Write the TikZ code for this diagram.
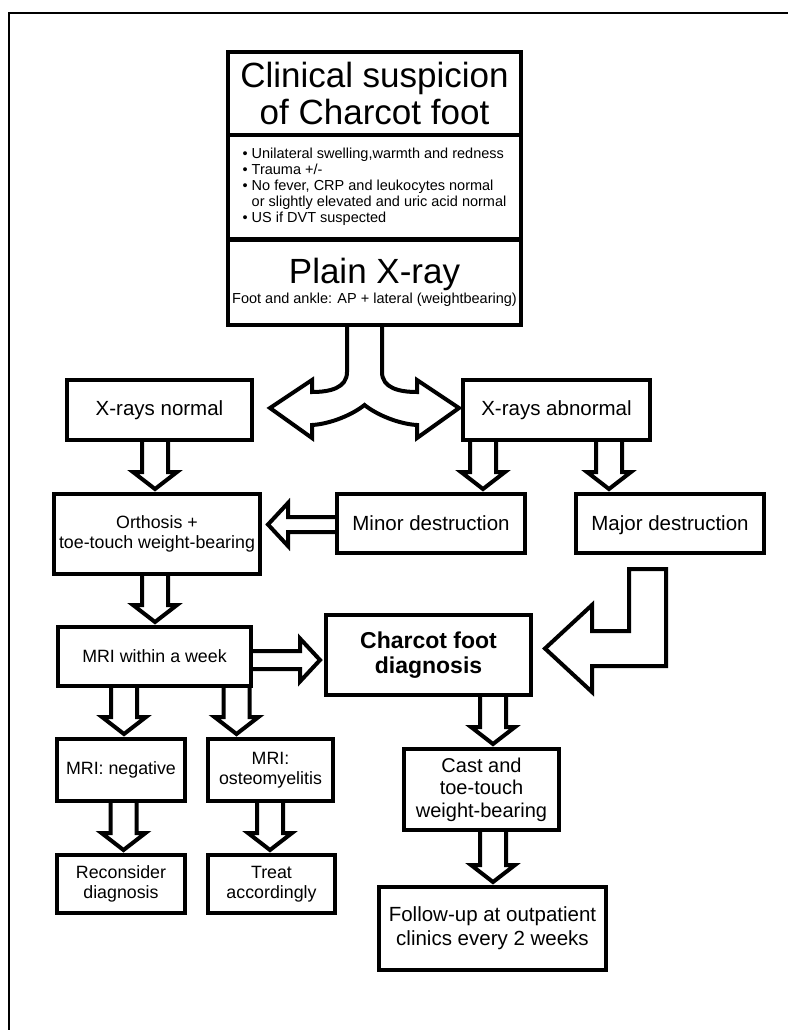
\documentclass[tikz,border=0pt]{standalone}
\usepackage{fontspec}
\setmainfont{Liberation Sans}
\usetikzlibrary{calc}
\newcommand\fsz[2]{\fontsize{#1}{#2}\selectfont}
% downward block arrow: x, from node, to node
\newcommand\downarr[3]{%
  \coordinate (ax) at (#1,0);
  \draw[arr] ($(ax |- #2.south)+(-13,0)$) -- ($(ax |- #3.north)+(-13,-22)$)
    -- ($(ax |- #3.north)+(-22,-22)$) -- ($(ax |- #3.north)+(0,-5)$)
    -- ($(ax |- #3.north)+(22,-22)$) -- ($(ax |- #3.north)+(13,-22)$)
    -- ($(ax |- #2.south)+(13,0)$);}
\begin{document}
\begin{tikzpicture}[x=1pt,y=-1pt,
  box/.style={draw, line width=4pt, fill=white, inner sep=0pt, outer sep=0pt,
    align=center, line join=miter},
  arr/.style={draw, line width=4pt, line join=miter},
  medium/.style={font=\fsz{20.5}{24}},
  small/.style={font=\fsz{17.8}{20}}]
\useasboundingbox (0,0) rectangle (788,1030);
% outer frame (left and top edges)
\draw[line width=2.5pt] (9,1030) -- (9,13) -- (788,13);

% top stacked box
\node[box, minimum width=293, minimum height=83, font=\fsz{35}{37}] (title) at (374.5,93.5)
  {Clinical suspicion\\of Charcot foot};
\node[box, minimum width=293, minimum height=104, align=left, font=\fsz{14.5}{16}] (bullets) at (374.5,187)
  {• Unilateral swelling,warmth and redness\\• Trauma +/-\\• No fever, CRP and leukocytes normal\\\phantom{•}\ or slightly elevated and uric acid normal\\• US if DVT suspected};
\node[box, minimum width=293, minimum height=85, font=\fsz{14.5}{20}] (xray) at (374.5,282)
  {{\fsz{35}{37}Plain X-ray}\\Foot and ankle: AP + lateral (weightbearing)};

% second row
\node[box, medium, minimum width=185, minimum height=60] (normal) at (159.5,410) {X-rays normal};
\node[box, medium, minimum width=187, minimum height=60] (abnormal) at (556.5,410) {X-rays abnormal};

\node[box, medium, minimum width=188, minimum height=59] (minor) at (431,523.5) {Minor destruction};
\node[box, medium, minimum width=188, minimum height=59, text depth=0pt] (major) at (670,523.5) {Major destruction};
\node[box, small, minimum width=206, minimum height=80] (ortho) at (157,534)
  {Orthosis +\\toe-touch weight-bearing};

\node[box, small, minimum width=193, minimum height=59] (mri) at (154.5,656.5) {MRI within a week};
\node[box, minimum width=205, minimum height=80, font=\bfseries\fsz{23}{25}] (charcot) at (428.5,655)
  {Charcot foot\\diagnosis};

\node[box, small, minimum width=128, minimum height=62] (neg) at (121,770) {MRI: negative};
\node[box, small, minimum width=125, minimum height=62] (osteo) at (270.5,770) {MRI:\\osteomyelitis};
\node[box, small, minimum width=128, minimum height=58] (recon) at (121,884) {Reconsider\\diagnosis};
\node[box, small, minimum width=127, minimum height=58] (treat) at (271.5,884) {Treat\\accordingly};

\node[box, minimum width=155, minimum height=81, font=\fsz{20}{22.5}] (cast) at (481.5,789.5)
  {Cast and\\toe-touch\\weight-bearing};
\node[box, minimum width=227, minimum height=83, font=\fsz{20.5}{24}] (follow) at (492.5,928.5)
  {Follow-up at outpatient\\clinics every 2 weeks};

% split arrow from Plain X-ray
\draw[arr] (347,0 |- xray.south) -- (347,372)
  .. controls (347,388) and (330,392) .. (312,392)
  -- (312,380) -- (270,408) -- (312,438) -- (312,425)
  .. controls (330,424) and (352,415) .. (364.5,405)
  .. controls (377,415) and (399,424) .. (417,425)
  -- (417,438) -- (459,408) -- (417,380) -- (417,392)
  .. controls (399,392) and (382,388) .. (382,372)
  -- (382,0 |- xray.south);

% vertical block arrows
\downarr{155}{normal}{ortho}
\downarr{483}{abnormal}{minor}
\downarr{609}{abnormal}{major}
\downarr{155}{ortho}{mri}
\downarr{124}{mri}{neg}
\downarr{236.5}{mri}{osteo}
\downarr{123.5}{neg}{recon}
\downarr{270}{osteo}{treat}
\downarr{493}{charcot}{cast}
\downarr{493}{cast}{follow}

% minor destruction -> orthosis
\coordinate (m1) at (0,524.5);
\draw[arr] ($(minor.west |- m1)+(0,-7.5)$) -- ($(ortho.east |- m1)+(28,-7.5)$)
  -- ($(ortho.east |- m1)+(28,-21.5)$) -- ($(ortho.east |- m1)+(8,0)$)
  -- ($(ortho.east |- m1)+(28,21.5)$) -- ($(ortho.east |- m1)+(28,7.5)$)
  -- ($(minor.west |- m1)+(0,7.5)$);

% MRI -> Charcot
\coordinate (m2) at (0,660);
\draw[arr] ($(mri.east |- m2)+(0,-9)$) -- ($(charcot.west |- m2)+(-26,-9)$)
  -- ($(charcot.west |- m2)+(-26,-21.5)$) -- ($(charcot.west |- m2)+(-6,0)$)
  -- ($(charcot.west |- m2)+(-26,21.5)$) -- ($(charcot.west |- m2)+(-26,9)$)
  -- ($(mri.east |- m2)+(0,9)$);

% L-shaped arrow from major destruction to Charcot
\draw[arr] (629,569) -- (666,569) -- (666,666) -- (592,666) -- (592,692)
  -- (545,648.5) -- (592,605) -- (592,631) -- (629,631) -- cycle;
\end{tikzpicture}
\end{document}
